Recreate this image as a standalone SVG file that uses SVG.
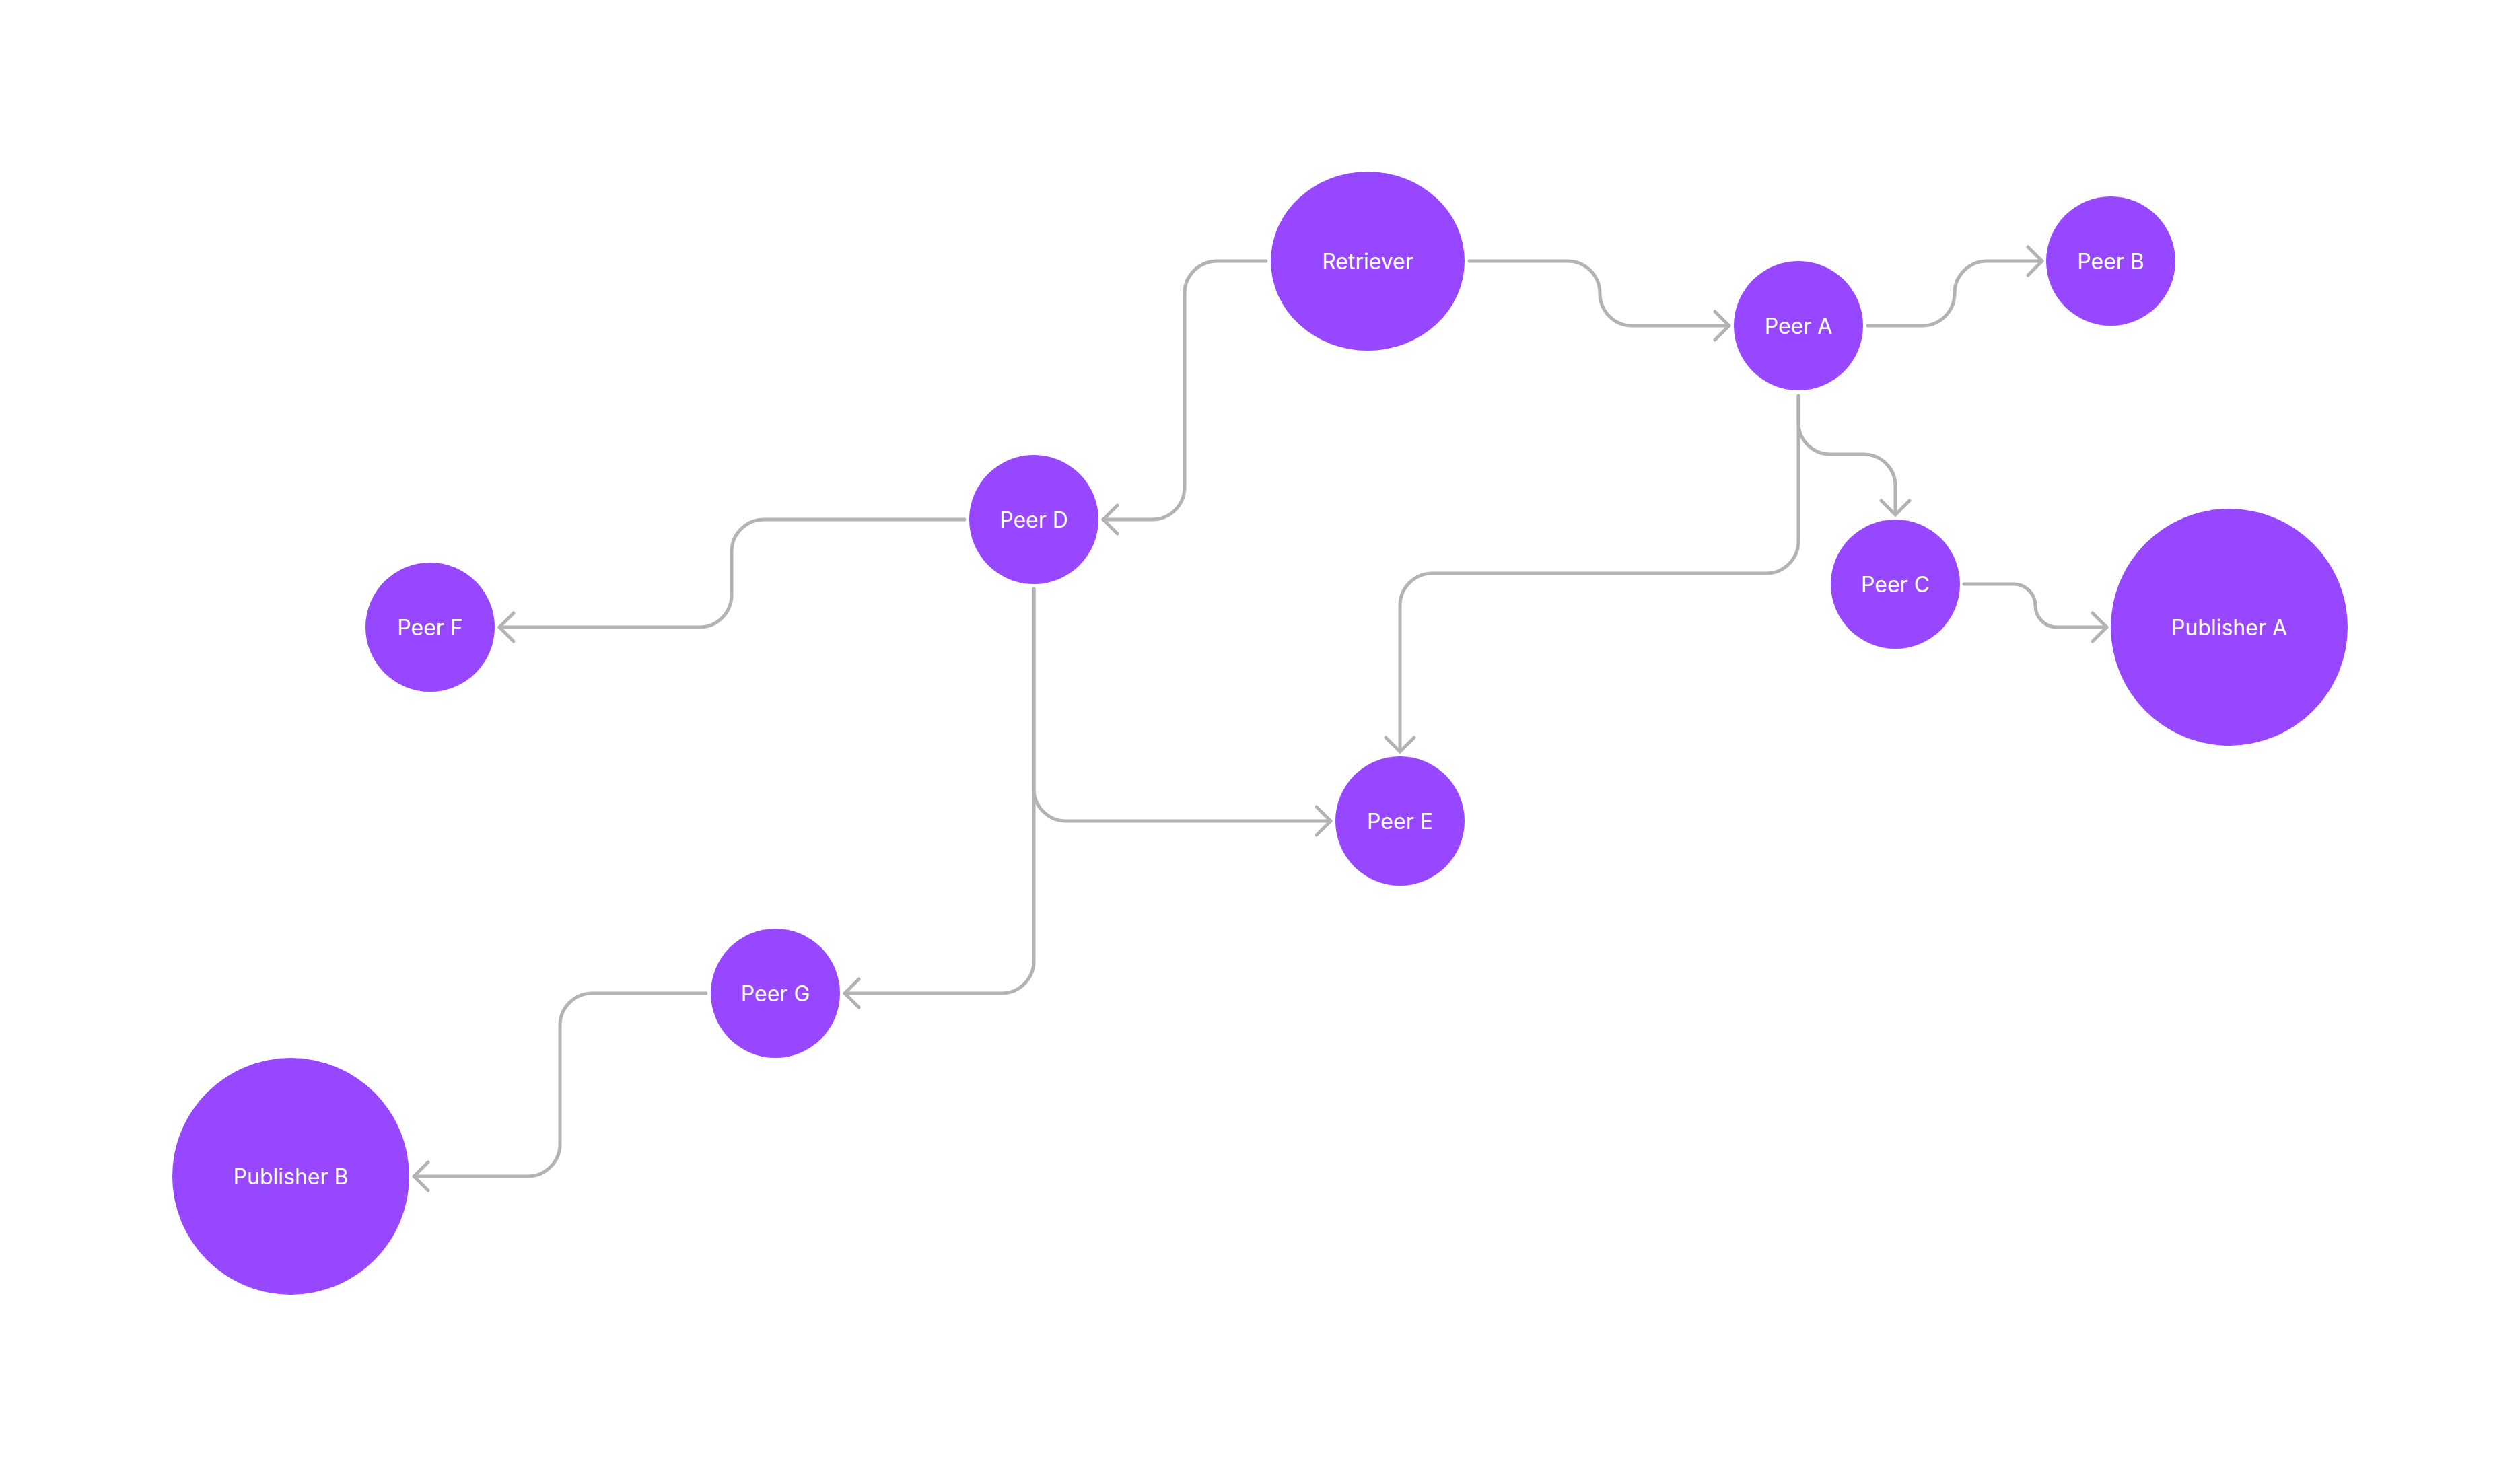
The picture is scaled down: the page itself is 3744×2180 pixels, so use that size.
<svg xmlns="http://www.w3.org/2000/svg" width="3744" height="2180" viewBox="0 0 3744 2180">
<style>
.node { fill: #9747FF; }
.label { fill: #FFFFFF; font-family: Inter, "Liberation Sans", sans-serif; font-size: 32px; font-weight: 400; text-anchor: middle; }
.edge { fill: none; stroke: #B3B3B3; stroke-width: 5; stroke-linecap: round; stroke-linejoin: round; marker-end: url(#arrow); }
</style>
<defs>
<marker id="arrow" markerUnits="userSpaceOnUse" viewBox="-30 -30 40 60" refX="0" refY="0" markerWidth="40" markerHeight="60" orient="auto" overflow="visible">
<path d="M -21 -21 L 0 0 L -21 21" fill="none" stroke="#B3B3B3" stroke-width="5" stroke-linecap="round" stroke-linejoin="round"/>
</marker>
</defs>
<rect x="0" y="0" width="3744" height="2180" fill="#FFFFFF"/>
<g id="connectors">
<path class="edge" d="M 2183 388 H 2329 A 48 48 0 0 1 2377 436 A 48 48 0 0 0 2425 484 H 2569"/>
<path class="edge" d="M 1881 388 H 1808 A 48 48 0 0 0 1760 436 V 724 A 48 48 0 0 1 1712 772 H 1639"/>
<path class="edge" d="M 2775 484 H 2856 A 48 48 0 0 0 2904 436 A 48 48 0 0 1 2952 388 H 3034"/>
<path class="edge" d="M 2672 588 V 628 A 47 47 0 0 0 2719 675 H 2769 A 47 47 0 0 1 2816 722 V 765"/>
<path class="edge" d="M 2672 588 V 804 A 48 48 0 0 1 2624 852 H 2128 A 48 48 0 0 0 2080 900 V 1117"/>
<path class="edge" d="M 2918 868 H 2992 A 32 32 0 0 1 3024 900 A 32 32 0 0 0 3056 932 H 3130"/>
<path class="edge" d="M 1433 772 H 1135 A 48 48 0 0 0 1087 820 V 884 A 48 48 0 0 1 1039 932 H 742"/>
<path class="edge" d="M 1536 875 V 1172 A 48 48 0 0 0 1584 1220 H 1977"/>
<path class="edge" d="M 1536 875 V 1428 A 48 48 0 0 1 1488 1476 H 1255"/>
<path class="edge" d="M 1049 1476 H 880 A 48 48 0 0 0 832 1524 V 1700 A 48 48 0 0 1 784 1748 H 615"/>
</g>
<g id="retriever"><ellipse class="node" cx="2032" cy="388" rx="144" ry="133"/><text class="label" x="2032" y="400">Retriever</text></g>
<g id="peer-a"><circle class="node" cx="2672" cy="484" r="96"/><text class="label" x="2672" y="496">Peer A</text></g>
<g id="peer-b"><circle class="node" cx="3136" cy="388" r="96"/><text class="label" x="3136" y="400">Peer B</text></g>
<g id="peer-c"><circle class="node" cx="2816" cy="868" r="96"/><text class="label" x="2816" y="880">Peer C</text></g>
<g id="publisher-a"><circle class="node" cx="3312" cy="932" r="176"/><text class="label" x="3312" y="944">Publisher A</text></g>
<g id="peer-d"><circle class="node" cx="1536" cy="772" r="96"/><text class="label" x="1536" y="784">Peer D</text></g>
<g id="peer-e"><circle class="node" cx="2080" cy="1220" r="96"/><text class="label" x="2080" y="1232">Peer E</text></g>
<g id="peer-f"><circle class="node" cx="639" cy="932" r="96"/><text class="label" x="639" y="944">Peer F</text></g>
<g id="peer-g"><circle class="node" cx="1152" cy="1476" r="96"/><text class="label" x="1152" y="1488">Peer G</text></g>
<g id="publisher-b"><circle class="node" cx="432" cy="1748" r="176"/><text class="label" x="432" y="1760">Publisher B</text></g>
</svg>
